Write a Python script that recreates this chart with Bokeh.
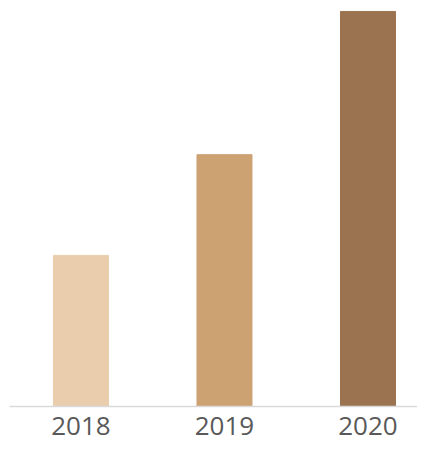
from bokeh.plotting import figure
from bokeh.models import ColumnDataSource, Range1d, FixedTicker
from bokeh.embed import file_html
from bokeh.resources import INLINE

years = ["2018", "2019", "2020"]
values = [1.53, 2.55, 4.0]
colors = ["#EACDAD", "#CCA273", "#9B7350"]

xs = list(range(len(years)))
source = ColumnDataSource(data=dict(x=xs, top=values, color=colors, year=years))

p = figure(width=417, height=443, output_backend="svg", toolbar_location=None,
           x_range=Range1d(-0.498, 2.345), y_range=Range1d(0, 4.111),
           min_border_left=9, min_border_right=0, min_border_top=0, min_border_bottom=37)

p.vbar(x="x", top="top", width=55 / 143.5, color="color", source=source)

p.outline_line_color = None
p.grid.visible = False
p.yaxis.visible = False
p.background_fill_color = "white"
p.border_fill_color = "white"

ax = p.xaxis[0]
ax.ticker = FixedTicker(ticks=xs)
ax.major_label_overrides = {i: y for i, y in zip(xs, years)}
ax.axis_line_color = "#D9D9D9"
ax.axis_line_width = 1.5
ax.major_tick_line_color = None
ax.minor_tick_line_color = None
ax.major_label_text_font = "Open Sans"
ax.major_label_text_font_size = "26px"
ax.major_label_text_color = "#595959"
ax.major_label_standoff = 4

open("out.html", "w").write(file_html(p, INLINE))
